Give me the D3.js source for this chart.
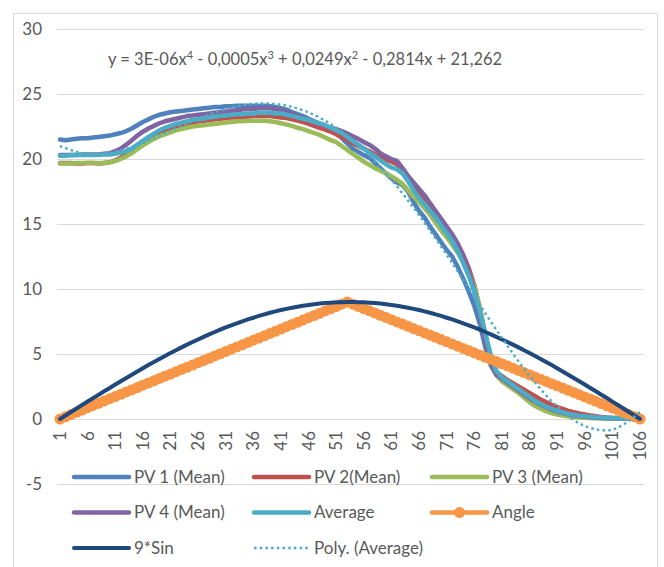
<!DOCTYPE html>
<html><head><meta charset="utf-8">
<script src="https://cdn.jsdelivr.net/npm/d3@7"></script>
<style>
body{margin:0;background:#fff;}
svg{display:block;}
text{font-family:Lato,"Open Sans",sans-serif;fill:#595959;}
</style>
</head><body>
<svg id="chart" width="664" height="567"></svg>
<script>
const categories = d3.range(1, 107);
const xTickLabels = [1,6,11,16,21,26,31,36,41,46,51,56,61,66,71,76,81,86,91,96,101,106];
const yTicks = [-5,0,5,10,15,20,25,30];

const pv1 = [21.5,21.45,21.5,21.55,21.6,21.6,21.65,21.7,21.75,21.8,
 21.9,22.0,22.15,22.35,22.6,22.85,23.05,23.25,23.4,23.5,
 23.6,23.65,23.7,23.75,23.8,23.85,23.9,23.95,24.0,24.0,
 24.05,24.05,24.1,24.1,24.1,24.1,24.1,24.1,24.05,24.0,
 23.9,23.8,23.6,23.45,23.3,23.1,22.9,22.7,22.5,22.3,
 22.0,21.6,21.2,20.8,20.55,20.3,20.1,19.7,19.3,18.9,
 18.5,18.2,18.0,17.5,16.7,16.0,15.5,14.8,14.2,13.6,
 13.0,12.5,11.7,10.8,9.8,8.7,7.3,5.5,4.1,3.4,
 3.0,2.7,2.4,2.1,1.8,1.5,1.25,1.0,0.8,0.65,
 0.5,0.4,0.32,0.25,0.2,0.16,0.13,0.1,0.08,0.06,
 0.05,0.04,0.03,0.02,0.01,0];

const pv2 = [19.7,19.7,19.7,19.65,19.65,19.7,19.7,19.65,19.7,19.75,
 19.9,20.1,20.35,20.65,20.95,21.25,21.5,21.75,21.95,22.15,
 22.3,22.45,22.6,22.7,22.8,22.9,22.95,23.0,23.05,23.1,
 23.15,23.2,23.2,23.25,23.25,23.3,23.3,23.3,23.3,23.25,
 23.2,23.15,23.05,22.95,22.85,22.7,22.55,22.4,22.25,22.1,
 21.9,21.7,21.45,21.2,21.0,20.8,20.6,20.35,20.1,19.95,
 19.8,19.6,19.1,18.5,18.0,17.5,17.0,16.5,15.9,15.3,
 14.7,14.1,13.4,12.6,11.6,10.3,8.5,6.4,4.6,3.6,
 3.3,3.0,2.75,2.5,2.25,2.0,1.75,1.5,1.3,1.1,
 0.92,0.77,0.63,0.52,0.42,0.34,0.27,0.21,0.16,0.12,
 0.09,0.07,0.05,0.03,0.02,0];

const pv3 = [19.65,19.65,19.65,19.7,19.7,19.7,19.7,19.7,19.7,19.75,
 19.85,20.0,20.2,20.45,20.75,21.05,21.3,21.55,21.75,21.9,
 22.05,22.2,22.3,22.4,22.5,22.55,22.6,22.65,22.7,22.75,
 22.8,22.85,22.9,22.9,22.95,22.95,22.95,22.95,22.9,22.85,
 22.75,22.65,22.55,22.4,22.3,22.15,22.0,21.85,21.65,21.45,
 21.3,21.0,20.7,20.4,20.1,19.8,19.55,19.3,19.1,18.9,
 18.65,18.4,18.1,17.6,17.1,16.7,16.2,15.7,15.1,14.5,
 14.0,13.4,12.8,12.1,11.3,10.2,8.6,6.4,4.4,3.4,
 2.9,2.6,2.3,2.0,1.65,1.3,1.0,0.8,0.6,0.45,
 0.35,0.27,0.2,0.15,0.12,0.1,0.08,0.06,0.05,0.04,
 0.03,0.02,0.02,0.01,0.01,0];

const pv4 = [20.3,20.3,20.3,20.3,20.35,20.35,20.35,20.35,20.4,20.45,
 20.6,20.8,21.1,21.45,21.8,22.1,22.35,22.55,22.75,22.9,
 23.0,23.1,23.2,23.3,23.35,23.4,23.45,23.5,23.55,23.6,
 23.65,23.7,23.75,23.8,23.85,23.85,23.9,23.9,23.9,23.85,
 23.75,23.6,23.45,23.3,23.15,23.0,22.85,22.7,22.55,22.4,
 22.3,22.15,21.95,21.75,21.55,21.3,21.1,20.8,20.45,20.2,
 20.0,19.85,19.3,18.7,18.2,17.7,17.2,16.6,16.0,15.4,
 14.8,14.2,13.5,12.6,11.4,9.9,8.0,6.0,4.3,3.4,
 3.1,2.8,2.5,2.2,1.9,1.6,1.35,1.1,0.9,0.72,
 0.58,0.46,0.36,0.28,0.22,0.17,0.13,0.1,0.08,0.06,
 0.05,0.04,0.03,0.02,0.01,0];

const average = [20.25,20.25,20.3,20.3,20.3,20.3,20.3,20.3,20.35,20.35,
 20.4,20.5,20.6,20.8,21.1,21.4,21.7,21.95,22.2,22.4,
 22.55,22.7,22.8,22.9,23.0,23.05,23.1,23.2,23.25,23.3,
 23.35,23.4,23.45,23.45,23.5,23.5,23.55,23.55,23.55,23.5,
 23.5,23.4,23.3,23.2,23.1,23.0,22.85,22.75,22.6,22.4,
 22.2,22.0,21.7,21.4,21.1,20.8,20.5,20.2,19.9,19.6,
 19.35,19.2,18.9,18.3,17.6,17.0,16.5,16.0,15.5,14.9,
 14.3,13.7,12.9,12.0,11.0,9.8,8.3,6.6,4.9,3.7,
 3.2,2.9,2.6,2.3,2.0,1.7,1.4,1.15,0.95,0.78,
 0.63,0.5,0.4,0.32,0.26,0.21,0.17,0.14,0.12,0.1,
 0.08,0.06,0.05,0.04,0.03,0];

const angle = [0,0.17,0.35,0.52,0.69,0.87,1.04,1.21,1.38,1.56,
 1.73,1.90,2.08,2.25,2.42,2.60,2.77,2.94,3.12,3.29,
 3.46,3.64,3.81,3.98,4.15,4.33,4.50,4.67,4.85,5.02,
 5.19,5.37,5.54,5.71,5.88,6.06,6.23,6.40,6.58,6.75,
 6.92,7.10,7.27,7.44,7.62,7.79,7.96,8.13,8.31,8.48,
 8.65,8.83,9.00,8.83,8.66,8.49,8.32,8.15,7.98,7.81,
 7.64,7.47,7.30,7.13,6.96,6.79,6.62,6.45,6.28,6.11,
 5.94,5.77,5.60,5.43,5.26,5.09,4.92,4.75,4.58,4.42,
 4.25,4.08,3.91,3.74,3.57,3.40,3.23,3.06,2.89,2.72,
 2.55,2.38,2.21,2.04,1.87,1.70,1.53,1.36,1.19,1.02,
 0.85,0.68,0.51,0.34,0.17,0];

const nineSin = [0,0.27,0.54,0.81,1.08,1.34,1.61,1.87,2.13,2.39,
 2.65,2.91,3.16,3.41,3.66,3.91,4.15,4.38,4.62,4.85,
 5.07,5.29,5.51,5.72,5.92,6.12,6.32,6.51,6.69,6.87,
 7.04,7.20,7.36,7.51,7.66,7.79,7.93,8.05,8.17,8.28,
 8.38,8.47,8.56,8.64,8.71,8.77,8.83,8.88,8.92,8.95,
 8.98,8.99,9.00,9.00,8.99,8.98,8.95,8.92,8.88,8.83,
 8.77,8.71,8.64,8.56,8.47,8.38,8.28,8.17,8.05,7.93,
 7.79,7.66,7.51,7.36,7.20,7.04,6.87,6.69,6.51,6.32,
 6.12,5.92,5.72,5.51,5.29,5.07,4.85,4.62,4.38,4.15,
 3.91,3.66,3.41,3.16,2.91,2.65,2.39,2.13,1.87,1.61,
 1.34,1.08,0.81,0.54,0.27,0];

const polyX = [1,6,11,16,21,26,31,36,41,46,51,56,61,66,71,76,81,86,91,96,101,106];
const polyAverage = [21.0,20.36,20.55,21.24,22.17,23.10,23.84,24.24,24.18,23.58,22.41,20.67,18.40,15.68,12.64,9.42,6.24,3.33,0.97,-0.54,-0.82,0.52];

const equationParts = ["y = 3E-06x","4"," - 0,0005x","3"," + 0,0249x","2"," - 0,2814x + 21,262"];

const seriesNames = ["PV 1 (Mean)","PV 2(Mean)","PV 3 (Mean)","PV 4 (Mean)","Average","Angle","9*Sin","Poly. (Average)"];
const seriesColors = ["#4F81BD","#C0504D","#9BBB59","#8064A2","#4BACC6","#F79646","#1F497D","#4BACC6"];

const svg = d3.select("#chart");
svg.append("rect").attr("x",13.5).attr("y",13.5).attr("width",644).attr("height",620)
  .attr("fill","#fff").attr("stroke","#d9d9d9").attr("stroke-width",1);

const x = d3.scalePoint().domain(categories).range([60, 640]);
const y = d3.scaleLinear().domain([-5, 30]).range([484, 29]);
const xl = d3.scaleLinear().domain([1, 106]).range([60, 640]);

// gridlines
svg.append("g").selectAll("line").data(yTicks).join("line")
  .attr("x1",57).attr("x2",644)
  .attr("y1",d=>Math.round(y(d))+0.5).attr("y2",d=>Math.round(y(d))+0.5)
  .attr("stroke","#d9d9d9").attr("stroke-width",1);

// y labels
svg.append("g").selectAll("text").data(yTicks).join("text")
  .attr("x",42).attr("y",d=>y(d)).attr("dy","0.35em")
  .attr("text-anchor","end").style("font-size","17px").text(d=>d);

// x labels
svg.append("g").selectAll("text").data(xTickLabels).join("text")
  .attr("transform",d=>`translate(${x(d)},431) rotate(-90)`)
  .attr("dy","0.35em").attr("text-anchor","end").style("font-size","17px").text(d=>d);

const line = d3.line().x((d,i)=>x(categories[i])).y(d=>y(d));

const series = [pv1, pv2, pv3, pv4, average];
series.forEach((s,k)=>{
  svg.append("path").datum(s).attr("d",line).attr("fill","none")
    .attr("stroke",seriesColors[k]).attr("stroke-width",4.5)
    .attr("stroke-linejoin","round").attr("stroke-linecap","round");
});

// Angle
svg.append("path").datum(angle).attr("d",line).attr("fill","none")
  .attr("stroke",seriesColors[5]).attr("stroke-width",4.5)
  .attr("stroke-linejoin","round").attr("stroke-linecap","round");
svg.append("g").selectAll("circle").data(angle).join("circle")
  .attr("cx",(d,i)=>x(categories[i])).attr("cy",d=>y(d)).attr("r",5.5)
  .attr("fill",seriesColors[5]);

// 9*Sin
svg.append("path").datum(nineSin).attr("d",line).attr("fill","none")
  .attr("stroke",seriesColors[6]).attr("stroke-width",4)
  .attr("stroke-linejoin","round").attr("stroke-linecap","round");

// Poly trendline
const polyLine = d3.line().x((d,i)=>xl(polyX[i])).y(d=>y(d)).curve(d3.curveCatmullRom);
svg.append("path").datum(polyAverage).attr("d",polyLine).attr("fill","none")
  .attr("stroke",seriesColors[7]).attr("stroke-width",2.5).attr("stroke-dasharray","2.5,3.2");

// equation
const eq = svg.append("text").attr("x",108).attr("y",65).style("font-size","16.5px");
equationParts.forEach((p,i)=>{
  const t = eq.append("tspan").text(p);
  if (i%2===1) t.attr("dy",-6).style("font-size","11px");
  else if (i>0) t.attr("dy",6);
});

// legend
const legendPos = [[74,477],[254,477],[432,477],[74,512.5],[254,512.5],[432,512.5],[74,548],[254,548]];
seriesNames.forEach((name,i)=>{
  const [lx,ly] = legendPos[i];
  const g = svg.append("g");
  const ln = g.append("line").attr("x1",lx).attr("x2",lx+55).attr("y1",ly).attr("y2",ly)
    .attr("stroke",seriesColors[i]);
  if (i===7) ln.attr("stroke-width",2.5).attr("stroke-dasharray","2.5,3.2");
  else ln.attr("stroke-width",i===6?4:4.5).attr("stroke-linecap","round");
  if (i===5) g.append("circle").attr("cx",lx+27.5).attr("cy",ly).attr("r",5.5).attr("fill",seriesColors[5]);
  g.append("text").attr("x",lx+60).attr("y",ly).attr("dy","0.35em")
    .style("font-size","17px").text(name);
});
</script>
</body></html>
